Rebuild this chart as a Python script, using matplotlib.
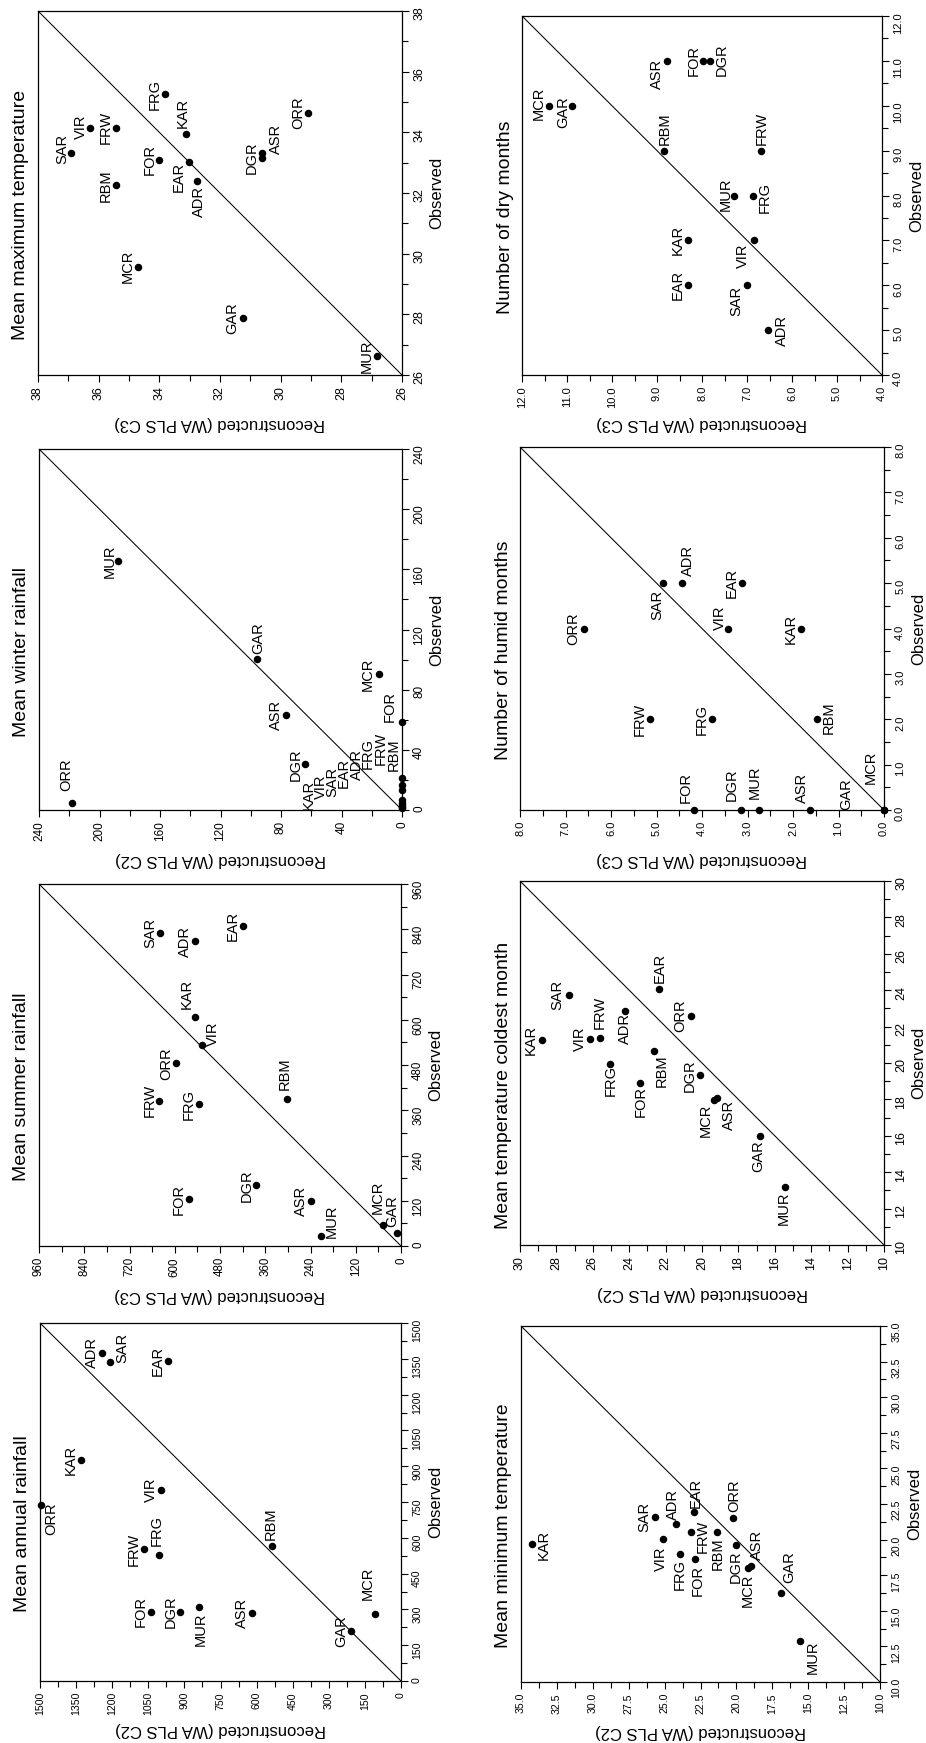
import numpy as np
import matplotlib
matplotlib.use('Agg')
import matplotlib.pyplot as plt
from matplotlib.ticker import MultipleLocator, FormatStrFormatter

plt.rcParams['font.family'] = ['Liberation Sans', 'DejaVu Sans']

# ---------------- data ----------------
SITES = ['ADR', 'ASR', 'DGR', 'EAR', 'FOR', 'FRG', 'FRW', 'GAR',
         'KAR', 'MCR', 'MUR', 'ORR', 'RBM', 'SAR', 'VIR']

maxT_obs = [32.41, 33.33, 33.15, 33.01, 33.09, 35.26, 34.15, 27.87,
            33.93, 29.57, 26.63, 34.65, 32.25, 33.33, 34.15]
maxT_rec = [32.75, 30.60, 30.63, 33.01, 34.00, 33.82, 35.43, 31.25,
            33.13, 34.71, 26.82, 29.09, 35.43, 36.91, 36.27]

dry_obs = [5.0, 11.0, 11.0, 6.0, 11.0, 8.0, 9.0, 10.0,
           7.0, 10.0, 8.0, np.nan, 9.0, 6.0, 7.0]
dry_rec = [6.54, 8.77, 7.82, 8.32, 7.97, 6.87, 6.70, 10.89,
           8.31, 11.39, 7.28, np.nan, 8.84, 6.99, 6.84]

winter_obs = [6.7, 63.2, 30.4, 4.7, 58.8, 13.3, 16.6, 100.5,
              1.0, 90.5, 165.7, 4.9, 21.1, 3.3, 2.0]
winter_rec = [0.0, 76.8, 64.4, 0.0, 0.0, 0.0, 0.0, 96.0,
              0.0, 15.4, 187.5, 217.9, 0.0, 0.0, 0.0]

humid_obs = [5.0, 0.0, 0.0, 5.0, 0.0, 2.0, 2.0, 0.0,
             4.0, 0.0, 0.0, 4.0, 2.0, 5.0, 4.0]
humid_rec = [4.43, 1.63, 3.15, 3.13, 4.18, 3.78, 5.14, 0.0,
             1.83, 0.0, 2.75, 6.60, 1.48, 4.86, 3.43]

summer_obs = [807.8, 119.6, 161.2, 849.4, 124.0, 376.4, 385.3, 35.4,
              606.7, 54.9, 26.6, 484.5, 390.6, 829.9, 533.2]
summer_rec = [545.4, 238.6, 383.6, 419.0, 563.0, 536.5, 640.9, 11.4,
              545.7, 48.6, 212.0, 596.7, 301.4, 639.1, 527.7]

cold_obs = [22.88, 18.05, 19.33, 24.05, 18.89, 19.92, 21.38, 15.99,
            21.27, 17.96, 13.20, 22.58, 20.65, 23.75, 21.32]
cold_rec = [24.21, 19.19, 20.09, 22.38, 23.41, 25.05, 25.59, 16.83,
            28.81, 19.34, 15.44, 20.62, 22.62, 27.33, 26.15]

annual_obs = [1374.4, 283.2, 290.2, 1339.5, 290.2, 527.4, 551.1, 209.3,
              926.5, 279.0, 309.8, 736.7, 563.7, 1335.3, 799.5]
annual_rec = [1243.8, 617.7, 916.9, 969.5, 1040.2, 1005.5, 1067.9, 207.8,
              1329.6, 106.6, 838.0, 1496.0, 537.4, 1209.1, 995.8]

minT_obs = [21.07, 18.13, 19.59, 21.95, 18.64, 18.99, 20.56, 16.22,
            19.68, 18.02, 12.87, 21.55, 20.56, 21.60, 20.03]
minT_rec = [24.24, 18.96, 20.00, 22.96, 22.85, 23.96, 23.17, 16.90,
            34.24, 19.21, 15.60, 20.25, 21.32, 25.69, 25.09]

# ---------------- label placement (pixel offsets, portrait page) ----------------
DEFAULT_OFF = (-10, 0)
off_maxT = {'SAR': (-9, 4), 'VIR': (-10, 1), 'KAR': (-3, 22), 'EAR': (-11, -15),
            'ADR': (2, -21), 'ASR': (14, 14)}
off_dry = {'MCR': (-11, 2), 'GAR': (-9, -6), 'ASR': (-10, -13), 'DGR': (12, 1),
           'RBM': (1, 22), 'FRW': (1, 22), 'MUR': (-9, 1), 'FRG': (12, -2),
           'VIR': (-11, -15), 'SAR': (-11, -16), 'ADR': (14, 0)}
off_winter = {'ORR': (-6, 28), 'MUR': (-9, 0), 'GAR': (1, 21), 'MCR': (-11, 0),
              'DGR': (-9, 0), 'FOR': (-12, 15), 'RBM': (-8, 24), 'FRW': (-21, 37),
              'FRG': (-34, 36), 'ADR': (-45, 35), 'EAR': (-58, 30), 'SAR': (-70, 23),
              'VIR': (-81, 20), 'KAR': (-93, 14)}
off_humid = {'SAR': (-6, -22), 'ADR': (6, 23), 'VIR': (-8, 11), 'RBM': (12, 2),
             'FOR': (-8, 23), 'DGR': (-9, 25), 'MUR': (-4, 28), 'ASR': (-8, 22),
             'GAR': (-38, 16), 'MCR': (-13, 43)}
off_summer = {'VIR': (11, 11), 'KAR': (-8, 23), 'RBM': (-3, 25), 'MUR': (11, 15),
              'MCR': (-5, 28), 'GAR': (-4, 22)}
off_cold = {'KAR': (-11, 0), 'SAR': (-11, 0), 'FRW': (-1, 25), 'ADR': (0, -18),
            'FRG': (1, -16), 'FOR': (1, -18), 'RBM': (7, -20), 'EAR': (1, 21),
            'DGR': (-11, 0), 'MCR': (-8, -20), 'ASR': (12, -16), 'GAR': (-1, -20),
            'MUR': (-1, -21)}
off_annual = {'ORR': (10, -14), 'SAR': (12, 14), 'FRG': (-2, 25), 'RBM': (-1, 23),
              'MUR': (1, -22), 'MCR': (-8, 31)}
off_minT = {'KAR': (12, -1), 'VIR': (-2, -20), 'ADR': (-3, 20), 'EAR': (2, 19),
            'FRW': (12, -5), 'FRG': (0, -21), 'FOR': (2, -22), 'RBM': (0, -22),
            'ORR': (1, 22), 'DGR': (-1, -21), 'MCR': (0, -23), 'ASR': (6, 21),
            'GAR': (8, 26), 'MUR': (13, -16)}

W, H = 926, 1743
fig = plt.figure(figsize=(W / 100, H / 100), dpi=100)


def add_panel(box, title, ylab, obs, rec, lo, hi, major, minor, fmt,
              ticksize, offsets):
    x0, y0, x1, y1 = box
    ax = fig.add_axes([x0 / W, 1 - y1 / H, (x1 - x0) / W, (y1 - y0) / H])
    # page is rotated: reconstructed runs right->left, observed bottom->top
    ax.plot([lo, hi], [lo, hi], color='black', lw=0.75)
    ax.plot(rec, obs, 'o', color='black', ms=4.4, clip_on=False, zorder=3)
    ax.set_xlim(hi, lo)
    ax.set_ylim(lo, hi)
    for axis in (ax.xaxis, ax.yaxis):
        axis.set_major_locator(MultipleLocator(major))
        axis.set_minor_locator(MultipleLocator(minor))
        axis.set_major_formatter(FormatStrFormatter(fmt))
    ax.yaxis.tick_right()
    ax.tick_params(axis='both', which='both', direction='out', width=0.8,
                   colors='black')
    ax.tick_params(which='major', length=5, pad=3, labelsize=ticksize)
    ax.tick_params(which='minor', length=4)
    ax.tick_params(axis='x', labelrotation=90)
    ax.tick_params(axis='y', labelrotation=90)
    for s in ax.spines.values():
        s.set_linewidth(0.9)
    for name, r, o in zip(SITES, rec, obs):
        if np.isnan(r) or np.isnan(o):
            continue
        dx, dy = offsets.get(name, DEFAULT_OFF)
        ax.annotate(name, (r, o), xytext=(dx, dy), textcoords='offset pixels',
                    rotation=90, ha='center', va='center', fontsize=10.5)
    ax.annotate(title, xy=(0, 0.5), xycoords='axes fraction', xytext=(-17, -22),
                textcoords='offset pixels', rotation=90, ha='center',
                va='center', fontsize=14)
    ax.annotate('Observed', xy=(1, 0.5), xycoords='axes fraction',
                xytext=(35, 0), textcoords='offset pixels', rotation=90,
                ha='center', va='center', fontsize=12)
    ax.annotate(ylab, xy=(0.5, 0), xycoords='axes fraction', xytext=(0, -49),
                textcoords='offset pixels', rotation=180, ha='center',
                va='center', fontsize=12)
    return ax


add_panel((38, 11, 402, 375), 'Mean maximum temperature', 'Reconstructed (WA PLS C3)',
          maxT_obs, maxT_rec, 26, 38, 2, 1, '%d', 9, off_maxT)
add_panel((522, 16, 882, 375), 'Number of dry months', 'Reconstructed (WA PLS C3)',
          dry_obs, dry_rec, 4, 12, 1, 0.5, '%.1f', 8, off_dry)
add_panel((39, 449, 402, 810), 'Mean winter rainfall', 'Reconstructed (WA PLS C2)',
          winter_obs, winter_rec, 0, 240, 40, 20, '%d', 8.5, off_winter)
add_panel((520, 447, 884, 810), 'Number of humid months', 'Reconstructed (WA PLS C3)',
          humid_obs, humid_rec, 0, 8, 1, 0.5, '%.1f', 8, off_humid)
add_panel((39, 884, 401, 1246), 'Mean summer rainfall', 'Reconstructed (WA PLS C3)',
          summer_obs, summer_rec, 0, 960, 120, 60, '%d', 8.3, off_summer)
add_panel((520, 881, 884, 1245), 'Mean temperature coldest month', 'Reconstructed (WA PLS C2)',
          cold_obs, cold_rec, 10, 30, 2, 1, '%d', 9, off_cold)
add_panel((40, 1323, 401, 1681), 'Mean annual rainfall', 'Reconstructed (WA PLS C2)',
          annual_obs, annual_rec, 0, 1500, 150, 75, '%d', 7.6, off_annual)
add_panel((521, 1326, 880, 1682), 'Mean minimum temperature', 'Reconstructed (WA PLS C2)',
          minT_obs, minT_rec, 10, 35, 2.5, 1.25, '%.1f', 7.6, off_minT)

fig.savefig('out.png', dpi=100)
